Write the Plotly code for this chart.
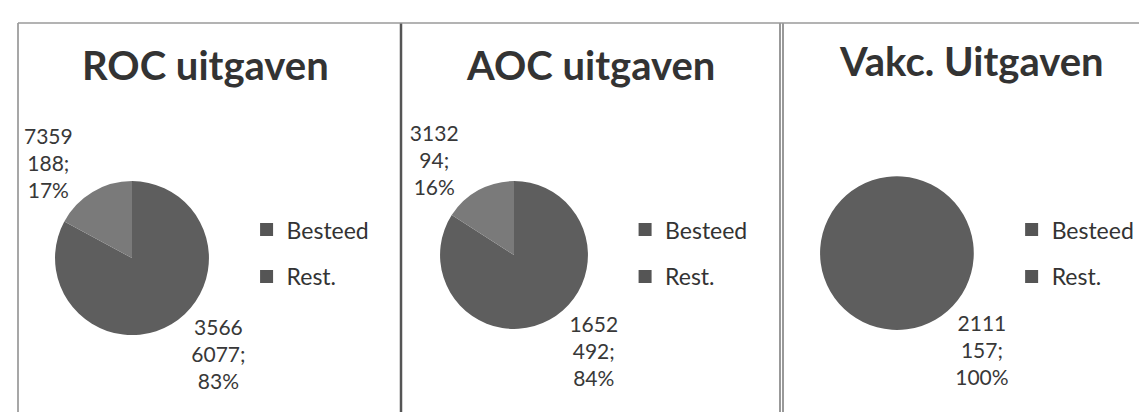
import plotly.graph_objects as go

# data
categories = ["Besteed", "Rest."]
titles = ["ROC uitgaven", "AOC uitgaven", "Vakc. Uitgaven"]
roc_values = [35666077, 7359188]
aoc_values = [1652492, 313294]
vakc_values = [2111157, 0]

colors = ["#5e5e5e", "#7a7a7a"]
legend_colors = ["#555555", "#555555"]
font_family = "Lato, 'Open Sans', sans-serif"


def split_label(values):
    """Excel wrapped the numbers after four digits."""
    out = []
    for v in values:
        s = str(v)
        out.append(s[:4] + "<br>" + s[4:] + ";")
    return out


def make_pie(values, domain_x, domain_y, rotation=0):
    # zero slices get no label
    templates = ["%{customdata}<br>%{percent:.0%}" if v > 0 else "" for v in values]
    return go.Pie(
        labels=categories,
        values=values,
        customdata=split_label(values),
        texttemplate=templates,
        textposition="outside",
        textfont=dict(family=font_family, size=21, color="#383838"),
        marker=dict(colors=colors, line=dict(width=0)),
        sort=False,
        direction="clockwise",
        rotation=rotation,
        domain=dict(x=domain_x, y=domain_y),
        showlegend=False,
        hoverinfo="label+value+percent",
    )


fig = go.Figure()
fig.add_trace(make_pie(roc_values, [0.041, 0.1752], [0.206, 0.580]))
fig.add_trace(make_pie(aoc_values, [0.3766, 0.5057], [0.221, 0.580]))
fig.add_trace(make_pie(vakc_values, [0.708, 0.842], [0.218, 0.592], rotation=-30))

# one legend per panel, built from marker-only entries
legend_names = ["legend", "legend2", "legend3"]
for lg in legend_names:
    for cat, col in zip(categories, legend_colors):
        fig.add_trace(go.Scatter(
            x=[None], y=[None], mode="markers", name=cat,
            marker=dict(symbol="square", size=13, color=col),
            legend=lg, legendgroup=lg + cat, showlegend=True,
        ))

legend_style = dict(
    font=dict(family=font_family, size=23, color="#333333"),
    bgcolor="rgba(0,0,0,0)",
    yanchor="middle",
    xanchor="left",
    y=0.405,
    tracegroupgap=14,
    itemclick=False,
    itemdoubleclick=False,
)
fig.update_layout(
    legend=dict(x=0.208, **legend_style),
    legend2=dict(x=0.538, **legend_style),
    legend3=dict(x=0.875, **legend_style),
)

title_x = [0.172, 0.508, 0.840]
title_y = [0.862, 0.862, 0.872]
for t, x, y in zip(titles, title_x, title_y):
    fig.add_annotation(
        text="<b>" + t + "</b>", x=x, y=y, xref="paper", yref="paper",
        showarrow=False, xanchor="center", yanchor="middle",
        font=dict(family=font_family, size=40, color="#333333"),
    )

# panel frame lines from the scan
frame = [
    (10, 10, 15, 412, 1.5, "#8a8a8a"),
    (393, 393, 15, 412, 2.5, "#555555"),
    (772, 772, 15, 412, 1.5, "#777777"),
    (775, 775, 15, 412, 1.5, "#777777"),
    (1143, 1143, 15, 412, 1.5, "#8a8a8a"),
    (10, 1147, 15, 15, 1.5, "#9a9a9a"),
]
for x0, x1, y0, y1, w, c in frame:
    fig.add_shape(
        type="line", xref="paper", yref="paper",
        x0=x0 / 1147, x1=x1 / 1147, y0=1 - y0 / 412, y1=1 - y1 / 412,
        line=dict(color=c, width=w),
    )

fig.update_xaxes(visible=False)
fig.update_yaxes(visible=False)
fig.update_layout(
    width=1147,
    height=412,
    margin=dict(l=0, r=0, t=0, b=0),
    paper_bgcolor="white",
    plot_bgcolor="white",
)

fig.write_html("out.html")
